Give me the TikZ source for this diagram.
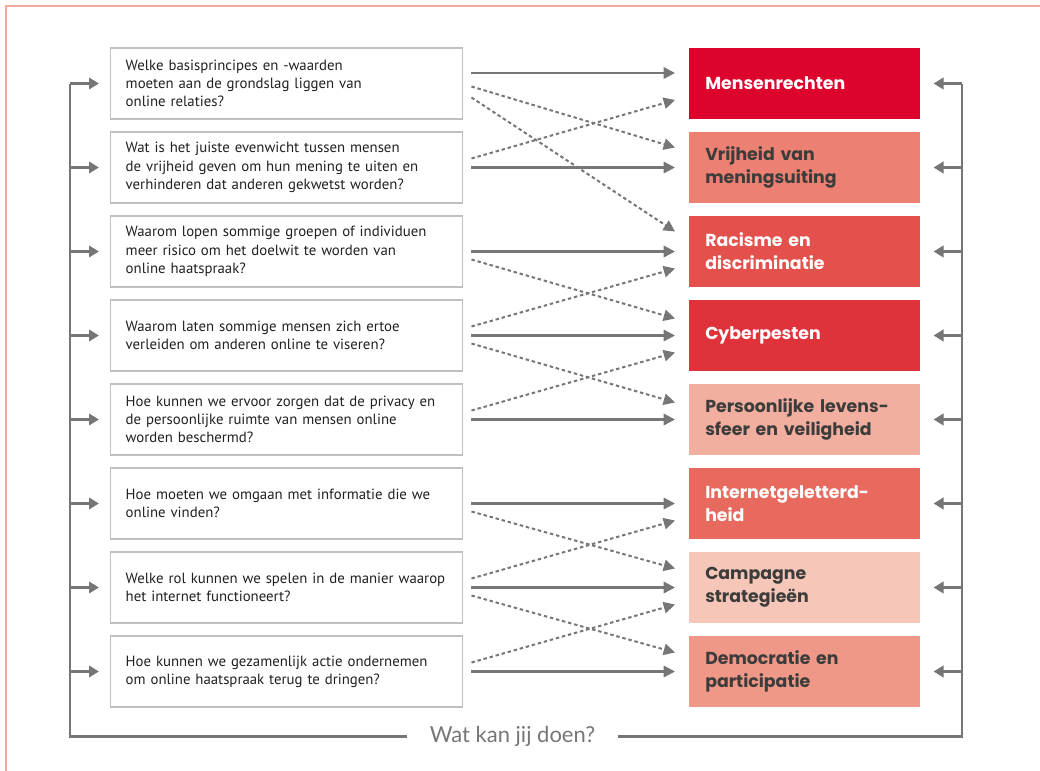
\documentclass[tikz,border=0pt]{standalone}
\usepackage{fontspec}
\setmainfont{PT Sans}
\newfontfamily\topicfont{Poppins}
\newfontfamily\footfont{Lato}
\usetikzlibrary{arrows.meta,calc}

\definecolor{framered}{RGB}{246,170,158}
\definecolor{linegray}{RGB}{118,118,118}
\definecolor{boxgray}{RGB}{192,192,192}
\definecolor{darktext}{RGB}{60,60,59}
\definecolor{qtext}{RGB}{35,31,32}
\definecolor{topicA}{RGB}{220,4,44}
\definecolor{topicB}{RGB}{236,128,114}
\definecolor{topicC}{RGB}{228,80,76}
\definecolor{topicD}{RGB}{224,50,58}
\definecolor{topicE}{RGB}{242,174,158}
\definecolor{topicF}{RGB}{232,106,94}
\definecolor{topicG}{RGB}{246,198,184}
\definecolor{topicH}{RGB}{240,152,136}

\begin{document}
\begin{tikzpicture}[x=0.75pt,y=-0.75pt,
  question/.style={draw=boxgray, line width=1.1pt, anchor=west, align=left,
    text width=241.5pt, inner xsep=11.25pt, minimum height=53.25pt,
    text=qtext, font=\fontsize{11.1}{13.7}\selectfont},
  topic/.style={anchor=west, align=left, text width=149.25pt, inner xsep=12pt,
    minimum height=53.25pt, font=\topicfont\bfseries\fontsize{13}{17.25}\selectfont},
  solidarrow/.style={draw=linegray, line width=1.8pt, -{Triangle[length=8.5pt,width=8.5pt]}},
  dottedarrow/.style={draw=linegray, line width=1.5pt, dash pattern=on 2.6pt off 2.1pt,
    -{Triangle[length=8.5pt,width=8.5pt]}},
  sideline/.style={draw=linegray, line width=2pt},
  sidearrow/.style={draw=linegray, line width=2pt, -{Triangle[length=7.5pt,width=8.5pt]}}]

\useasboundingbox (0,0) rectangle (1040,771);

% frame
\draw[framered, line width=1.2pt] (6,771) -- (6,6) -- (1040,6);

% questions
\node[question] (q1) at (110, 83.5) {Welke basisprincipes en -waarden\\moeten aan de grondslag liggen van\\online relaties?};
\node[question] (q2) at (110, 167.5) {Wat is het juiste evenwicht tussen mensen\\de vrijheid geven om hun mening te uiten en\\verhinderen dat anderen gekwetst worden?};
\node[question] (q3) at (110, 251.5) {Waarom lopen sommige groepen of individuen\\meer risico om het doelwit te worden van\\online haatspraak?};
\node[question] (q4) at (110, 335.5) {Waarom laten sommige mensen zich ertoe\\verleiden om anderen online te viseren?};
\node[question] (q5) at (110, 419.5) {Hoe kunnen we ervoor zorgen dat de privacy en\\de persoonlijke ruimte van mensen online\\worden beschermd?};
\node[question] (q6) at (110, 503.5) {Hoe moeten we omgaan met informatie die we\\online vinden?};
\node[question] (q7) at (110, 587.5) {Welke rol kunnen we spelen in de manier waarop\\het internet functioneert?};
\node[question] (q8) at (110, 671.5) {Hoe kunnen we gezamenlijk actie ondernemen\\om online haatspraak terug te dringen?};

% topics
\node[topic, fill=topicA, text=white] (t1) at (689, 83.5) {Mensenrechten};
\node[topic, fill=topicB, text=darktext] (t2) at (689, 167.5) {Vrijheid van\\meningsuiting};
\node[topic, fill=topicC, text=white] (t3) at (689, 251.5) {Racisme en\\discriminatie};
\node[topic, fill=topicD, text=white] (t4) at (689, 335.5) {Cyberpesten};
\node[topic, fill=topicE, text=darktext] (t5) at (689, 419.5) {Persoonlijke levens-\\sfeer en veiligheid};
\node[topic, fill=topicF, text=white] (t6) at (689, 503.5) {Internetgeletterd-\\heid};
\node[topic, fill=topicG, text=darktext] (t7) at (689, 587.5) {Campagne\\strategieën};
\node[topic, fill=topicH, text=darktext] (t8) at (689, 671.5) {Democratie en\\participatie};

% straight links
\draw[solidarrow] ($(q1.east)+(8,-10.5)$) -- ($(t1.west)+(-14,-10.5)$);
\draw[solidarrow] ($(q2.east)+(8,0)$) -- ($(t2.west)+(-14,0)$);
\draw[solidarrow] ($(q3.east)+(8,0)$) -- ($(t3.west)+(-14,0)$);
\draw[solidarrow] ($(q4.east)+(8,0)$) -- ($(t4.west)+(-14,0)$);
\draw[solidarrow] ($(q5.east)+(8,0)$) -- ($(t5.west)+(-14,0)$);
\draw[solidarrow] ($(q6.east)+(8,0)$) -- ($(t6.west)+(-14,0)$);
\draw[solidarrow] ($(q7.east)+(8,0)$) -- ($(t7.west)+(-14,0)$);
\draw[solidarrow] ($(q8.east)+(8,0)$) -- ($(t8.west)+(-14,0)$);

% crossing links
\draw[dottedarrow] ($(q1.east)+(8,3)$) -- ($(t2.west)+(-14,-20)$);
\draw[dottedarrow] ($(q1.east)+(8,14)$) -- ($(t3.west)+(-14,-20)$);
\draw[dottedarrow] ($(q2.east)+(8,-9)$) -- ($(t1.west)+(-14,16.5)$);
\draw[dottedarrow] ($(q3.east)+(8,8)$) -- ($(t4.west)+(-14,-17)$);
\draw[dottedarrow] ($(q4.east)+(8,-9)$) -- ($(t3.west)+(-14,17)$);
\draw[dottedarrow] ($(q4.east)+(8,8)$) -- ($(t5.west)+(-14,-17)$);
\draw[dottedarrow] ($(q5.east)+(8,-9)$) -- ($(t4.west)+(-14,17)$);
\draw[dottedarrow] ($(q6.east)+(8,8)$) -- ($(t7.west)+(-14,-19)$);
\draw[dottedarrow] ($(q7.east)+(8,-9)$) -- ($(t6.west)+(-14,17)$);
\draw[dottedarrow] ($(q7.east)+(8,8)$) -- ($(t8.west)+(-14,-19)$);
\draw[dottedarrow] ($(q8.east)+(8,-9)$) -- ($(t7.west)+(-14,17)$);

% feedback loop
\coordinate (ltop) at (70, 83.5);
\coordinate (lbot) at (70, 736.5);
\coordinate (rtop) at (962, 83.5);
\coordinate (rbot) at (962, 736.5);
\node[inner xsep=17pt, text=linegray, font=\footfont\fontsize{16.5}{19}\selectfont] (ask) at (512.5, 736.5) {Wat kan jij doen?};
\draw[sideline] (ask.west) -- (lbot) -- (ltop);
\draw[sideline] (ask.east) -- (rbot) -- (rtop);

\draw[sidearrow] (ltop |- q1) -- ($(q1.west)+(-11,0)$);
\draw[sidearrow] (ltop |- q2) -- ($(q2.west)+(-11,0)$);
\draw[sidearrow] (ltop |- q3) -- ($(q3.west)+(-11,0)$);
\draw[sidearrow] (ltop |- q4) -- ($(q4.west)+(-11,0)$);
\draw[sidearrow] (ltop |- q5) -- ($(q5.west)+(-11,0)$);
\draw[sidearrow] (ltop |- q6) -- ($(q6.west)+(-11,0)$);
\draw[sidearrow] (ltop |- q7) -- ($(q7.west)+(-11,0)$);
\draw[sidearrow] (ltop |- q8) -- ($(q8.west)+(-11,0)$);

\draw[sidearrow] (rtop |- t1) -- ($(t1.east)+(13,0)$);
\draw[sidearrow] (rtop |- t2) -- ($(t2.east)+(13,0)$);
\draw[sidearrow] (rtop |- t3) -- ($(t3.east)+(13,0)$);
\draw[sidearrow] (rtop |- t4) -- ($(t4.east)+(13,0)$);
\draw[sidearrow] (rtop |- t5) -- ($(t5.east)+(13,0)$);
\draw[sidearrow] (rtop |- t6) -- ($(t6.east)+(13,0)$);
\draw[sidearrow] (rtop |- t7) -- ($(t7.east)+(13,0)$);
\draw[sidearrow] (rtop |- t8) -- ($(t8.east)+(13,0)$);
\end{tikzpicture}
\end{document}
